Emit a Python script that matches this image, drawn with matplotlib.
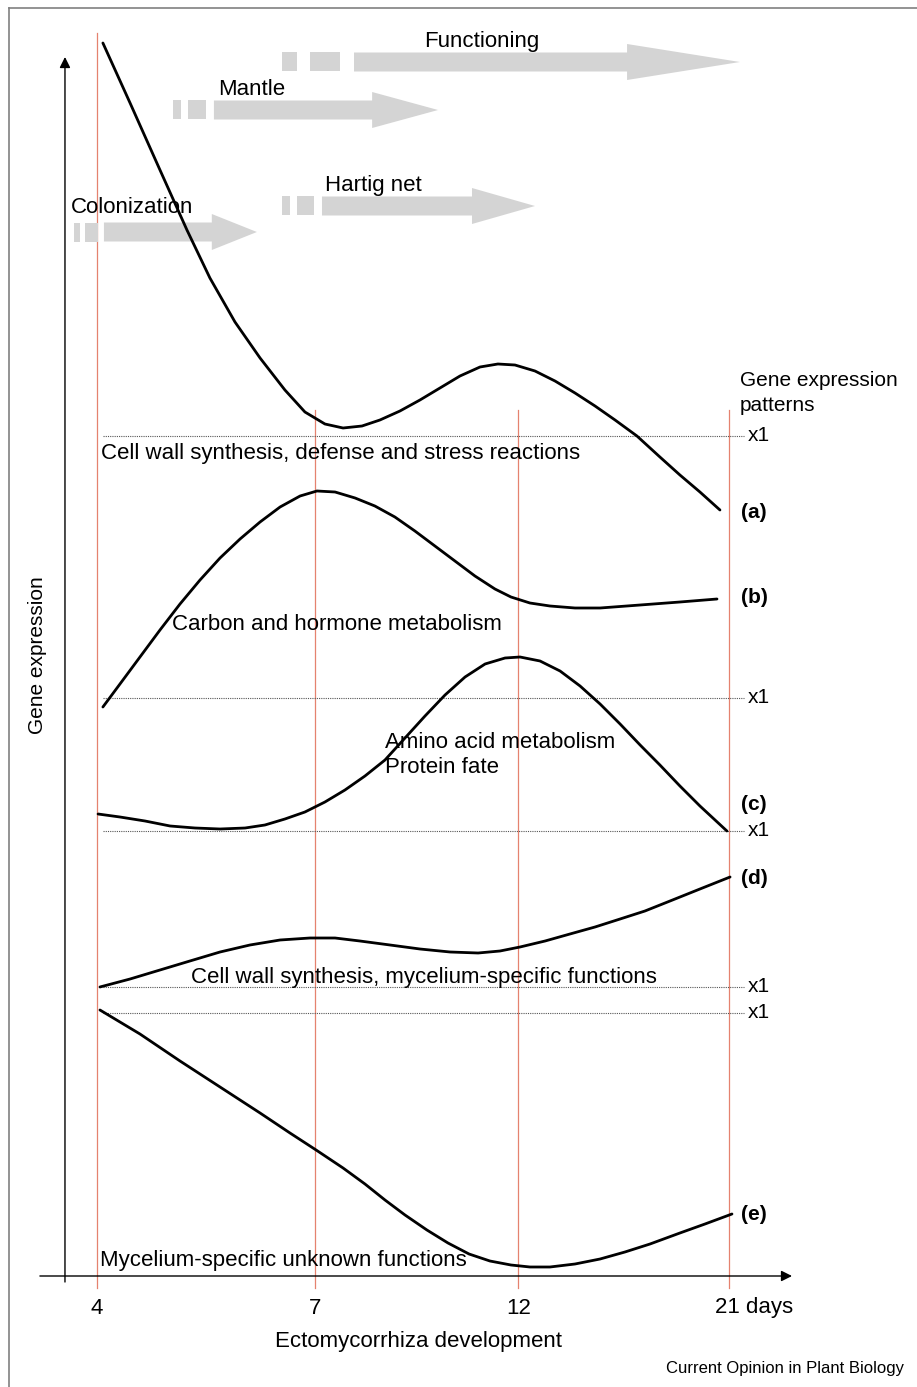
import numpy as np
import matplotlib.pyplot as plt
from matplotlib.patches import FancyArrow
from matplotlib.lines import Line2D

plt.rcParams['font.family'] = ['Liberation Sans', 'DejaVu Sans']

# Ectomycorrhiza development (days)
days = ['4', '7', '12', '21']
day_pos = [0.0, 1.035, 2.0, 3.0]

# developmental phases (grey arrows), in x-axis units
phases = ['Colonization', 'Mantle', 'Hartig net', 'Functioning']
phase_start = [-0.11, 0.36, 0.88, 0.88]
phase_body = [0.033, 0.555, 1.068, 1.22]
phase_end = [0.759, 1.619, 2.079, 3.052]

# gene expression patterns, relative to their x1 reference line
a_x = [0.028, 0.157, 0.299, 0.427, 0.536, 0.655, 0.774, 0.892, 0.987, 1.082,
       1.168, 1.258, 1.343, 1.438, 1.533, 1.628, 1.723, 1.818, 1.903, 1.984,
       2.079, 2.174, 2.269, 2.364, 2.459, 2.563, 2.672, 2.767, 2.862, 2.957]
a_rel = [3.93, 3.33, 2.66, 2.06, 1.58, 1.14, 0.78, 0.46, 0.24, 0.12,
         0.08, 0.10, 0.16, 0.25, 0.36, 0.48, 0.60, 0.69, 0.72, 0.71,
         0.65, 0.55, 0.43, 0.30, 0.16, 0.00, -0.21, -0.39, -0.56, -0.74]

b_x = [0.028, 0.109, 0.204, 0.299, 0.394, 0.489, 0.584, 0.679, 0.774, 0.869,
       0.964, 1.044, 1.130, 1.225, 1.319, 1.414, 1.509, 1.604, 1.699, 1.794,
       1.889, 1.965, 2.055, 2.150, 2.269, 2.388, 2.578, 2.767, 2.943]
b_rel = [-0.09, 0.14, 0.41, 0.68, 0.94, 1.18, 1.40, 1.59, 1.76, 1.91,
         2.02, 2.07, 2.06, 2.00, 1.92, 1.81, 1.67, 1.52, 1.37, 1.22,
         1.09, 1.01, 0.95, 0.92, 0.90, 0.90, 0.93, 0.96, 0.99]

c_x = [0.005, 0.109, 0.228, 0.347, 0.465, 0.584, 0.703, 0.797, 0.892, 0.987,
       1.082, 1.177, 1.272, 1.367, 1.462, 1.557, 1.652, 1.747, 1.842, 1.937,
       2.008, 2.103, 2.198, 2.293, 2.388, 2.483, 2.578, 2.672, 2.767, 2.862, 2.990]
c_rel = [0.17, 0.14, 0.10, 0.05, 0.03, 0.02, 0.03, 0.06, 0.12, 0.19,
         0.29, 0.41, 0.55, 0.71, 0.93, 1.15, 1.36, 1.54, 1.67, 1.73,
         1.74, 1.70, 1.60, 1.45, 1.27, 1.07, 0.86, 0.66, 0.45, 0.25, 0.00]

d_x = [0.014, 0.157, 0.299, 0.441, 0.584, 0.726, 0.869, 1.011, 1.130, 1.248,
       1.391, 1.533, 1.676, 1.809, 1.913, 2.008, 2.127, 2.245, 2.364, 2.483,
       2.601, 2.720, 2.862, 3.005]
d_rel = [0.00, 0.08, 0.17, 0.26, 0.35, 0.42, 0.47, 0.49, 0.49, 0.46,
         0.42, 0.38, 0.35, 0.34, 0.36, 0.40, 0.46, 0.53, 0.60, 0.68,
         0.76, 0.86, 0.98, 1.10]

e_x = [0.014, 0.204, 0.394, 0.584, 0.774, 0.916, 1.040, 1.168, 1.272, 1.367,
       1.462, 1.566, 1.666, 1.766, 1.865, 1.965, 2.055, 2.150, 2.269, 2.388,
       2.506, 2.625, 2.767, 2.886, 3.014]
e_rel = [0.03, -0.21, -0.48, -0.74, -1.00, -1.20, -1.37, -1.55, -1.71, -1.87,
         -2.02, -2.17, -2.30, -2.41, -2.48, -2.52, -2.54, -2.54, -2.51, -2.46,
         -2.39, -2.31, -2.20, -2.11, -2.01]

pattern_labels = ['(a)', '(b)', '(c)', '(d)', '(e)']
pattern_names = ['Cell wall synthesis, defense and stress reactions',
                 'Carbon and hormone metabolism',
                 'Amino acid metabolism\nProtein fate',
                 'Cell wall synthesis, mycelium-specific functions',
                 'Mycelium-specific unknown functions']

# layout
baselines = [8.40, 5.78, 4.45, 2.89, 2.63]
label_y = [7.63, 6.78, 4.71, 3.97, 0.61]
name_xy = [(0.02, 8.17), (0.356, 6.46), (1.367, 5.03), (0.446, 2.93), (0.014, 0.10)]
phase_y = [10.44, 11.66, 10.70, 12.14]
phase_head = [0.214, 0.313, 0.299, 0.536]
phase_text = [(-0.123, 10.63), (0.574, 11.81), (1.082, 10.85), (1.552, 12.29)]

grey = '#d4d4d4'
red = '#e5826f'

fig = plt.figure(figsize=(9.17, 13.87), dpi=100)
ax = fig.add_axes([0, 0, 1, 1])
ax.set_xlim(-0.4604, 3.8923)
ax.set_ylim(-1.11, 12.76)
ax.axis('off')

# frame of the original panel
fig.add_artist(Line2D([9 / 917, 9 / 917], [0, 1 - 8 / 1387], transform=fig.transFigure,
                      color='#808080', lw=1.2))
fig.add_artist(Line2D([9 / 917, 1], [1 - 8 / 1387, 1 - 8 / 1387], transform=fig.transFigure,
                      color='#808080', lw=1.2))

# red time lines
for i, p in enumerate(day_pos):
    top = 12.43 if i == 0 else 8.66
    ax.plot([p, p], [-0.12, top], color=red, lw=0.9, zorder=1)

# phase arrows
for i, name in enumerate(phases):
    yc = phase_y[i]
    span = phase_body[i] - phase_start[i]
    lefts = [phase_start[i], phase_start[i] + 0.38 * span]
    widths = [0.2 * span, 0.42 * span]
    ax.barh([yc, yc], widths, left=lefts, height=0.19, color=grey, lw=0, zorder=2)
    ax.add_patch(FancyArrow(phase_body[i], yc, phase_end[i] - phase_body[i], 0,
                            width=0.19, head_width=0.36, head_length=phase_head[i],
                            length_includes_head=True, color=grey, lw=0, zorder=2))
    ax.text(phase_text[i][0], phase_text[i][1], name, fontsize=16, ha='left',
            va='baseline', zorder=4)

# x1 reference lines
for i, b in enumerate(baselines):
    ax.plot([0.03, 3.07], [b, b], color='#555555', lw=0.8, ls=(0, (1, 1)), zorder=2)
    ax.text(3.09, b, 'x1', fontsize=15, ha='left', va='center')
    ax.text(3.057, label_y[i], pattern_labels[i], fontsize=15, fontweight='bold',
            ha='left', va='center')
    ax.text(name_xy[i][0], name_xy[i][1], pattern_names[i], fontsize=16, ha='left',
            va='baseline', linespacing=1.25, zorder=4)

# expression curves
xs = [a_x, b_x, c_x, d_x, e_x]
rels = [a_rel, b_rel, c_rel, d_rel, e_rel]
for x, r, b in zip(xs, rels, baselines):
    ax.plot(x, np.array(r) + b, color='black', lw=2.0, solid_capstyle='round',
            solid_joinstyle='round', zorder=3)

ax.text(3.052, 8.90, 'Gene expression', fontsize=15, ha='left', va='baseline')
ax.text(3.052, 8.65, 'patterns', fontsize=15, ha='left', va='baseline')

# axes arrows
arrow = dict(arrowstyle='-|>', color='black', lw=1.0, mutation_scale=16,
             shrinkA=0, shrinkB=0)
ax.annotate('', xy=(-0.152, 12.19), xytext=(-0.152, -0.06), arrowprops=arrow)
ax.annotate('', xy=(3.299, 0.0), xytext=(-0.271, 0.0), arrowprops=arrow)

for i, p in enumerate(day_pos):
    if i == len(days) - 1:
        ax.text(2.934, -0.32, days[i] + ' days', fontsize=16, ha='left', va='center')
    else:
        ax.text(p, -0.32, days[i], fontsize=16, ha='center', va='center')

ax.text(1.524, -0.66, 'Ectomycorrhiza development', fontsize=16, ha='center', va='center')
ax.text(-0.284, 6.21, 'Gene expression', fontsize=15, rotation=90, ha='center', va='center')
ax.text(3.829, -0.92, 'Current Opinion in Plant Biology', fontsize=12, ha='right',
        va='center')

fig.savefig('out.png', dpi=100)
